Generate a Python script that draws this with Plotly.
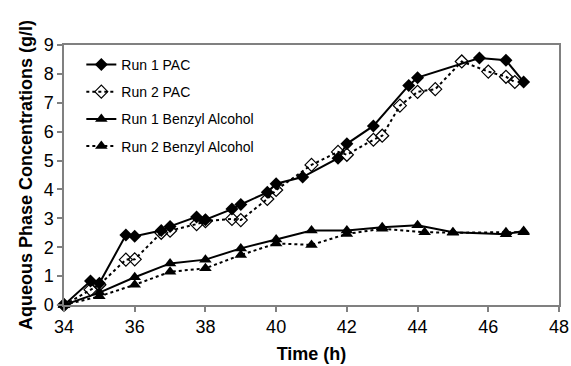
import plotly.graph_objects as go

# Run 1 PAC
t_pac1 = [34, 34.75, 35, 35.75, 36, 36.75, 37, 37.75, 38, 38.75, 39, 39.75, 40,
          40.75, 41.75, 42, 42.75, 43.75, 44, 45.75, 46.5, 47]
c_pac1 = [0, 0.83, 0.75, 2.42, 2.38, 2.58, 2.72, 3.05, 2.95, 3.32, 3.48, 3.9, 4.2,
          4.43, 5.08, 5.58, 6.2, 7.6, 7.87, 8.55, 8.47, 7.72]
# Run 2 PAC
t_pac2 = [34, 34.75, 35, 35.75, 36, 36.75, 37, 37.75, 38, 38.75, 39, 39.75, 40,
          41, 41.75, 42, 42.75, 43, 43.5, 44, 44.5, 45.25, 46, 46.5, 46.75]
c_pac2 = [0, 0.53, 0.7, 1.57, 1.58, 2.5, 2.57, 2.8, 2.9, 2.98, 2.94, 3.67, 3.98,
          4.85, 5.3, 5.2, 5.72, 5.86, 6.9, 7.38, 7.47, 8.43, 8.08, 7.9, 7.72]
# Run 1 Benzyl Alcohol
t_ba1 = [34, 35, 36, 37, 38, 39, 40, 41, 42, 43, 44, 45, 46.5, 47]
c_ba1 = [0, 0.43, 0.96, 1.44, 1.57, 1.96, 2.27, 2.58, 2.58, 2.69, 2.76, 2.52, 2.45, 2.56]
# Run 2 Benzyl Alcohol
t_ba2 = [34, 35, 36, 37, 38, 39, 40, 41, 42, 43, 44.2, 45, 46.5, 47]
c_ba2 = [0, 0.3, 0.7, 1.15, 1.27, 1.73, 2.13, 2.08, 2.46, 2.64, 2.52, 2.5, 2.52, 2.52]

x_ticks = [34, 36, 38, 40, 42, 44, 46, 48]
y_ticks = [0, 1, 2, 3, 4, 5, 6, 7, 8, 9]

FONT = "Liberation Sans, Arial, sans-serif"

fig = go.Figure()
fig.add_trace(go.Scatter(x=t_pac1, y=c_pac1, name="Run 1 PAC", mode="lines+markers",
                         line=dict(color="black", width=2),
                         marker=dict(symbol="diamond", size=10, color="black"),
                         cliponaxis=False, legendgroup="a"))
fig.add_trace(go.Scatter(x=t_pac2, y=c_pac2, name="Run 2 PAC", mode="lines+markers",
                         line=dict(color="black", width=2, dash="dot"),
                         marker=dict(symbol="diamond-open", size=10, color="black",
                                     line=dict(width=1.2)),
                         cliponaxis=False, legendgroup="b"))
fig.add_trace(go.Scatter(x=t_ba1, y=c_ba1, name="Run 1 Benzyl Alcohol", mode="lines+markers",
                         line=dict(color="black", width=2),
                         marker=dict(symbol="triangle-up", size=11, color="black"),
                         cliponaxis=False, legendgroup="c"))
fig.add_trace(go.Scatter(x=t_ba2, y=c_ba2, name="Run 2 Benzyl Alcohol", mode="lines+markers",
                         line=dict(color="black", width=2, dash="dot"),
                         marker=dict(symbol="triangle-up", size=11, color="black"),
                         cliponaxis=False, legendgroup="d"))

axis_common = dict(showline=True, linecolor="#808080", linewidth=1.5, mirror=True,
                   ticks="outside", ticklen=5, tickcolor="#808080", tickwidth=1.5,
                   showgrid=False, zeroline=False, automargin=False,
                   tickfont=dict(family=FONT, size=18, color="black"))

fig.update_layout(
    width=571, height=366,
    margin=dict(l=64, r=12, t=45, b=61),
    paper_bgcolor="white", plot_bgcolor="white",
    font=dict(family=FONT, color="black"),
    xaxis=dict(range=[34, 48], tickvals=x_ticks,
               title=dict(text="<b>Time (h)</b>", font=dict(family=FONT, size=18), standoff=11),
               **axis_common),
    yaxis=dict(range=[0, 9], tickvals=y_ticks,
               title=dict(text="<b>Aqueous Phase Concentrations (g/l)</b>",
                          font=dict(family=FONT, size=18), standoff=6),
               **axis_common),
    legend=dict(x=0.035, y=0.985, xanchor="left", yanchor="top",
                font=dict(family=FONT, size=14), bgcolor="rgba(0,0,0,0)",
                traceorder="grouped", tracegroupgap=6),
    showlegend=True,
)

fig.write_html("out.html")
